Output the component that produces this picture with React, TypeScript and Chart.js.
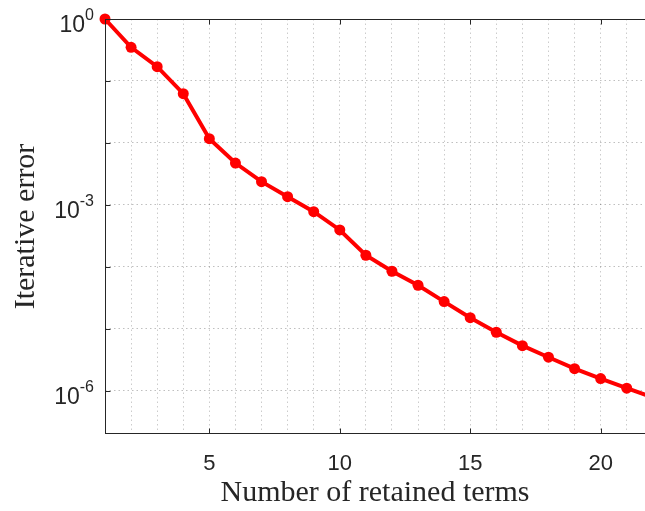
import { useEffect, useRef } from 'react';
import { Chart, registerables } from 'chart.js';

Chart.register(...registerables);

// Convergence of the iterative scheme
const terms = [1, 2, 3, 4, 5, 6, 7, 8, 9, 10, 11, 12, 13, 14, 15, 16, 17, 18, 19, 20, 21, 22];
const iterativeError = [
  1, 0.349, 0.17, 0.0624, 0.01174, 0.00475, 0.00238, 0.00136, 7.8e-4, 3.95e-4,
  1.545e-4, 8.53e-5, 5.07e-5, 2.76e-5, 1.52e-5, 8.85e-6, 5.38e-6, 3.5e-6, 2.29e-6,
  1.58e-6, 1.11e-6, 7.9e-7,
];
const xTickValues = [5, 10, 15, 20];
const xGridValues = [1, 2, 3, 4, 5, 6, 7, 8, 9, 10, 11, 12, 13, 14, 15, 16, 17, 18, 19, 20, 21];
const yGridExponents = [0, -1, -2, -3, -4, -5, -6];
const yLabelExponents = [0, -3, -6];
const xRange = [1, 21.7];
const yRange = [2.02e-7, 1];

const AXIS_COLOR = '#262626';
const TICK_FONT = '"Liberation Sans", Arial, Helvetica, sans-serif';
const TITLE_FONT = '"Liberation Serif", "DejaVu Serif", serif';

// Box outline, inward tick marks and the 10^n labels of the log axis
const axesBox = {
  id: 'axesBox',
  afterDraw(chart: any) {
    const { ctx, chartArea, scales } = chart;
    const { left, right, top, bottom } = chartArea;
    const xs = scales.x;
    const ys = scales.y;
    const tl = 5.5;
    ctx.save();
    ctx.strokeStyle = AXIS_COLOR;
    ctx.lineWidth = 1;
    ctx.setLineDash([]);
    ctx.beginPath();
    ctx.moveTo(left + 0.5, top);
    ctx.lineTo(left + 0.5, bottom);
    ctx.moveTo(left, bottom - 0.5);
    ctx.lineTo(right, bottom - 0.5);
    ctx.moveTo(left, top + 0.5);
    ctx.lineTo(right, top + 0.5);
    for (const v of xTickValues) {
      const px = Math.round(xs.getPixelForValue(v)) + 0.5;
      ctx.moveTo(px, bottom);
      ctx.lineTo(px, bottom - tl);
      ctx.moveTo(px, top);
      ctx.lineTo(px, top + tl);
    }
    for (const e of yGridExponents) {
      const py = Math.round(ys.getPixelForValue(Math.pow(10, e))) + 0.5;
      ctx.moveTo(left, py);
      ctx.lineTo(left + tl, py);
    }
    ctx.stroke();

    ctx.fillStyle = AXIS_COLOR;
    ctx.textBaseline = 'alphabetic';
    for (const e of yLabelExponents) {
      const py = ys.getPixelForValue(Math.pow(10, e));
      const exp = e === 0 ? '0' : '-' + String(-e);
      ctx.font = `16px ${TICK_FONT}`;
      const expW = ctx.measureText(exp).width;
      const expRight = left - 11;
      ctx.textAlign = 'left';
      ctx.fillText(exp, expRight - expW, py + 1);
      ctx.font = `23px ${TICK_FONT}`;
      ctx.textAlign = 'right';
      ctx.fillText('10', expRight - expW, py + 13);
    }
    ctx.restore();
  },
};

export default function App() {
  const canvasRef = useRef<HTMLCanvasElement | null>(null);

  useEffect(() => {
    const canvas = canvasRef.current;
    if (!canvas) return;
    const chart = new Chart(canvas, {
      type: 'line',
      data: {
        datasets: [
          {
            data: terms.map((t, i) => ({ x: t, y: iterativeError[i] })),
            borderColor: '#ff0000',
            backgroundColor: '#ff0000',
            borderWidth: 4,
            pointRadius: 5.5,
            pointBorderWidth: 0,
            pointBackgroundColor: '#ff0000',
            tension: 0,
            clip: false,
          },
        ],
      },
      options: {
        responsive: false,
        animation: false,
        events: [],
        layout: { autoPadding: false, padding: { top: 19, right: 0, bottom: 0, left: 0 } },
        plugins: { legend: { display: false }, tooltip: { enabled: false } },
        scales: {
          x: {
            type: 'linear',
            min: xRange[0],
            max: xRange[1],
            afterBuildTicks: (scale: any) => {
              scale.ticks = xGridValues.map((v) => ({ value: v }));
            },
            afterFit: (scale: any) => {
              scale.height = 77;
            },
            grid: {
              color: 'rgba(0,0,0,0.2)',
              lineWidth: 1,
              drawTicks: false,
              borderDash: [1.5, 3],
            },
            border: { display: false, dash: [1.5, 3] },
            ticks: {
              autoSkip: false,
              maxRotation: 0,
              padding: 17,
              color: AXIS_COLOR,
              font: { family: TICK_FONT, size: 22 },
              callback: (v: any) => (xTickValues.includes(Number(v)) ? String(v) : ''),
            },
            title: {
              display: true,
              text: 'Number of retained terms',
              color: AXIS_COLOR,
              font: { family: TITLE_FONT, size: 30, lineHeight: 1.2 },
              padding: { top: 0, bottom: 0 },
            },
          },
          y: {
            type: 'logarithmic',
            min: yRange[0],
            max: yRange[1],
            afterBuildTicks: (scale: any) => {
              scale.ticks = yGridExponents.map((e) => ({ value: Math.pow(10, e) }));
            },
            afterFit: (scale: any) => {
              scale.width = 105;
            },
            grid: {
              color: 'rgba(0,0,0,0.25)',
              lineWidth: 1,
              drawTicks: false,
              borderDash: [1.5, 3],
            },
            border: { display: false, dash: [1.5, 3] },
            ticks: { display: false },
            title: {
              display: true,
              text: 'Iterative error',
              color: AXIS_COLOR,
              font: { family: TITLE_FONT, size: 30, lineHeight: 1.2 },
              padding: { top: 8, bottom: 0 },
            },
          },
        },
      },
      plugins: [axesBox],
    } as any);
    return () => chart.destroy();
  }, []);

  return (
    <div style={{ position: 'fixed', left: 0, top: 0, width: 645, height: 511, background: '#fff' }}>
      <canvas ref={canvasRef} width={645} height={511} style={{ display: 'block' }} />
    </div>
  );
}
